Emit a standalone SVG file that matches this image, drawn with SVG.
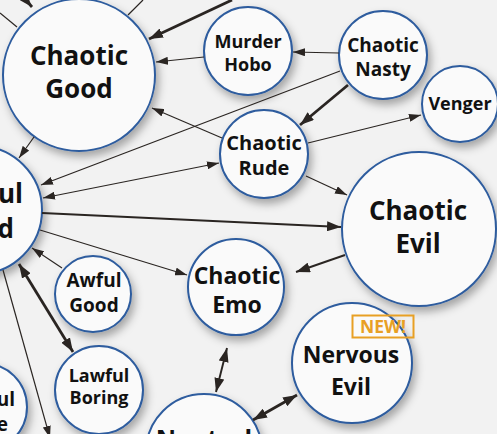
<svg xmlns="http://www.w3.org/2000/svg" width="497" height="434" viewBox="0 0 497 434">
<defs>
<filter id="sh" x="-30%" y="-30%" width="160%" height="160%">
<feDropShadow dx="3" dy="5" stdDeviation="4" flood-color="#000" flood-opacity="0.32"/>
</filter>
<filter id="sh2" x="-30%" y="-30%" width="160%" height="160%">
<feDropShadow dx="2" dy="8" stdDeviation="5" flood-color="#000" flood-opacity="0.5"/>
</filter>
<marker id="a" viewBox="0 0 12 8" refX="12" refY="4" markerWidth="12" markerHeight="8" markerUnits="userSpaceOnUse" orient="auto-start-reverse">
<path d="M0,0 L12,4 L0,8 z" fill="#2a2522"/>
</marker>
<marker id="A" viewBox="0 0 14 10" refX="14" refY="5" markerWidth="14" markerHeight="10" markerUnits="userSpaceOnUse" orient="auto-start-reverse">
<path d="M0,0 L14,5 L0,10 z" fill="#2a2522"/>
</marker>
</defs>
<style>
.n{fill:#fafafa;stroke:#2d5c9e;stroke-width:2;filter:url(#sh)}
.t{font-family:"Open Sans","DejaVu Sans",sans-serif;font-weight:bold;fill:#111;text-anchor:middle}
.e{text-anchor:end}
.c line{stroke:#2a2522;fill:none}
.th{stroke-width:1.2}
.tk{stroke-width:2.8}
.md{stroke-width:1.9}
</style>
<rect width="497" height="434" fill="#f2f2f2"/>
<g id="top-node"><circle cx="356" cy="-70" r="66" fill="#fafafa" stroke="#2d5c9e" stroke-width="2" filter="url(#sh2)"/></g>
<g id="chaotic-good"><circle class="n" cx="79" cy="75" r="76"/>
<text class="t" x="79" y="65" font-size="26">Chaotic</text><text class="t" x="79" y="98" font-size="26">Good</text></g>
<g id="murder-hobo"><circle class="n" cx="248" cy="51" r="44"/>
<text class="t" x="248" y="48" font-size="18">Murder</text><text class="t" x="248" y="71" font-size="18">Hobo</text></g>
<g id="chaotic-nasty"><circle class="n" cx="383" cy="55" r="44"/>
<text class="t" x="383" y="52" font-size="19">Chaotic</text><text class="t" x="383" y="76" font-size="19">Nasty</text></g>
<g id="venger"><circle class="n" cx="460" cy="104" r="38"/>
<text class="t" x="460" y="110" font-size="18">Venger</text></g>
<g id="chaotic-rude"><circle class="n" cx="264" cy="154" r="44"/>
<text class="t" x="264" y="150" font-size="20">Chaotic</text><text class="t" x="264" y="175" font-size="20">Rude</text></g>
<g id="chaotic-evil"><circle class="n" cx="419" cy="229" r="77"/>
<text class="t" x="418" y="220" font-size="26">Chaotic</text><text class="t" x="418" y="253" font-size="26">Evil</text></g>
<g id="lawful-good"><circle class="n" cx="-22" cy="210" r="64"/>
<text class="t e" x="23" y="203" font-size="26">ful</text><text class="t e" x="14" y="238" font-size="26">d</text></g>
<g id="chaotic-emo"><circle class="n" cx="236" cy="287" r="48"/>
<text class="t" x="237" y="284" font-size="23">Chaotic</text><text class="t" x="237" y="313" font-size="23">Emo</text></g>
<g id="awful-good"><circle class="n" cx="93" cy="294" r="38"/>
<text class="t" x="94" y="287" font-size="19">Awful</text><text class="t" x="94" y="312" font-size="19">Good</text></g>
<g id="lawful-boring"><circle class="n" cx="99" cy="390" r="44"/>
<text class="t" x="99" y="382" font-size="18">Lawful</text><text class="t" x="99" y="404" font-size="18">Boring</text></g>
<g id="lawful-bottom"><circle class="n" cx="-17" cy="407" r="44"/>
<text class="t e" x="15" y="406" font-size="19">ul</text><text class="t e" x="8" y="431" font-size="19">e</text></g>
<g id="neutral"><circle class="n" cx="204" cy="452" r="58"/>
<text class="t" x="204" y="448" font-size="25">Neutral</text></g>
<g id="nervous-evil"><circle class="n" cx="352" cy="363" r="60"/>
<text class="t" x="351" y="363" font-size="23">Nervous</text><text class="t" x="351" y="395" font-size="23">Evil</text>
<rect x="352.5" y="315.5" width="61" height="22" fill="none" stroke="#e8a024" stroke-width="2"/>
<text x="383" y="333" font-family="'Open Sans','DejaVu Sans',sans-serif" font-weight="bold" font-size="17.5" fill="#e8a024" text-anchor="middle">NEW!</text></g>
<g id="connectors" class="c">
<line class="tk" x1="12" y1="-16" x2="32" y2="7" marker-end="url(#A)"/>
<line class="th" x1="0" y1="13" x2="17" y2="27"/>
<line class="th" x1="128" y1="15" x2="143" y2="0"/>
<line class="tk" x1="232" y1="0" x2="149" y2="39" marker-end="url(#A)"/>
<line class="th" x1="204" y1="57" x2="156" y2="62" marker-end="url(#a)"/>
<line class="th" x1="339" y1="53" x2="293" y2="52" marker-end="url(#a)"/>
<line class="th" x1="340" y1="71" x2="41" y2="185" marker-end="url(#a)"/>
<line class="th" x1="222" y1="138" x2="152" y2="108" marker-end="url(#a)"/>
<line class="tk" x1="348" y1="85" x2="300" y2="125" marker-end="url(#A)"/>
<line class="th" x1="308" y1="143" x2="421" y2="115" marker-end="url(#a)"/>
<line class="th" x1="43" y1="198" x2="219" y2="163" marker-start="url(#a)" marker-end="url(#a)"/>
<line class="md" x1="42" y1="213" x2="341" y2="227" marker-end="url(#A)"/>
<line class="th" x1="306" y1="176" x2="347" y2="195" marker-end="url(#a)"/>
<line class="md" x1="345" y1="255" x2="296" y2="272" marker-end="url(#A)"/>
<line class="th" x1="40" y1="230" x2="187" y2="275" marker-end="url(#a)"/>
<line class="th" x1="62" y1="268" x2="32" y2="248" marker-end="url(#a)"/>
<line class="tk" x1="19" y1="264" x2="73" y2="352" marker-start="url(#A)" marker-end="url(#A)"/>
<line class="th" x1="3" y1="270" x2="50" y2="438" marker-end="url(#a)"/>
<line class="md" x1="227" y1="348" x2="216" y2="392" marker-start="url(#A)" marker-end="url(#A)"/>
<line class="tk" x1="253" y1="420" x2="297" y2="395" marker-start="url(#A)" marker-end="url(#A)"/>
<line class="th" x1="34" y1="137" x2="19" y2="158" marker-end="url(#a)"/>
</g>
</svg>
